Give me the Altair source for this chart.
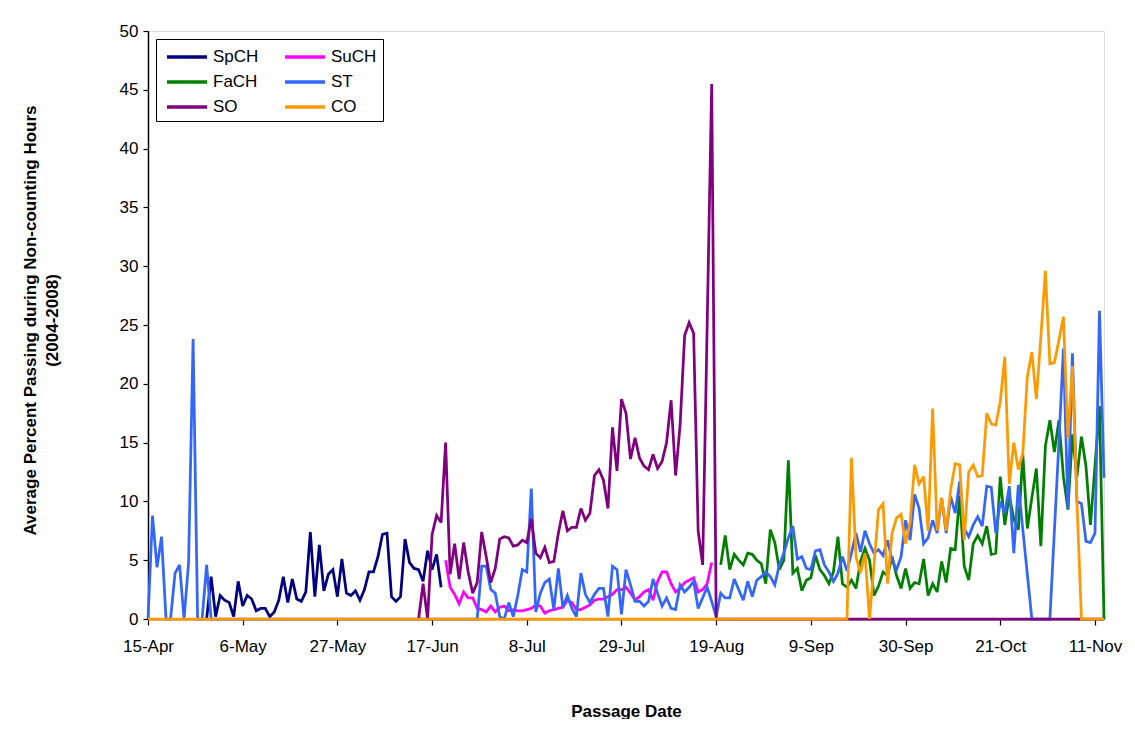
import altair as alt
import pandas as pd

# ---------------- data ----------------
BASE_DATE = "2007-04-15"          # 15-Apr, day 0 of the season
SERIES = ["SpCH", "SuCH", "FaCH", "ST", "SO", "CO"]
COLORS = ["#000080", "#FF00FF", "#008000", "#3366FF", "#800080", "#FF9900"]
TICK_DAYS = [0, 21, 42, 63, 84, 105, 126, 147, 168, 189, 210]
LAST_DAY = 212
Y_TICKS = [0, 5, 10, 15, 20, 25, 30, 35, 40, 45, 50]

SPCH_START = 13
SPCH = [0, 3.6, 0.2, 2.0, 1.6, 1.4, 0.2, 3.2, 1.1, 2.0, 1.7, 0.7, 0.9, 0.9, 0.2,
        0.6, 1.6, 3.6, 1.4, 3.4, 1.7, 1.5, 2.3, 7.4, 1.9, 6.3, 2.4, 3.8, 4.2, 1.9,
        5.1, 2.2, 2.0, 2.4, 1.6, 2.5, 4.0, 4.0, 5.3, 7.2, 7.3, 1.9, 1.5, 1.9, 6.8,
        4.8, 4.3, 4.2, 3.2, 5.8, 4.2, 5.5, 2.7]

SUCH_START = 66
SUCH = [5.0, 2.7, 2.1, 1.3, 2.3, 1.8, 1.8, 0.9, 0.8, 0.6, 1.1, 0.6, 1.0, 1.1, 0.7,
        0.8, 0.7, 0.7, 0.8, 0.9, 1.2, 1.1, 0.5, 0.7, 0.8, 0.9, 1.0, 1.6, 1.4, 0.8,
        0.8, 1.0, 1.2, 1.6, 1.7, 1.7, 1.9, 2.1, 2.5, 2.5, 2.7, 2.2, 1.6, 1.9, 2.3,
        2.5, 1.6, 3.2, 4.0, 4.0, 3.0, 2.3, 2.6, 3.1, 3.3, 3.5, 2.3, 2.5, 3.0, 4.8]

FACH_START = 127
FACH = [4.6, 7.1, 4.2, 5.5, 5.0, 4.6, 5.6, 5.5, 5.0, 4.7, 3.0, 7.6, 6.5, 4.2, 5.0,
        13.5, 3.9, 4.3, 2.4, 3.3, 3.5, 5.4, 4.2, 3.7, 3.0, 4.0, 7.0, 3.0, 2.7, 3.3,
        2.6, 4.9, 6.0, 5.0, 2.0, 2.8, 4.0, 3.7, 5.3, 3.7, 2.6, 4.3, 2.6, 3.1, 3.0,
        5.1, 2.0, 3.0, 2.3, 4.9, 3.1, 6.0, 5.9, 10.5, 4.5, 3.3, 6.4, 7.1, 6.4, 7.9,
        5.5, 5.6, 12.1, 8.0, 10.5, 8.5, 7.6, 14.0, 7.7, 10.3, 12.8, 6.2, 14.7, 16.9,
        14.2, 16.9, 12.1, 9.3, 15.7, 12.1, 15.5, 13.0, 8.0, 13.0, 18.1, 0]

ST_START = 0
ST = ([0, 8.8, 4.4, 7.0, 0, 0, 3.9, 4.6, 0, 4.8, 23.8, 0, 0, 4.6, 0]
      + [0] * 59 +
      [4.5, 4.5, 2.5, 2.2, 0.2, 0, 1.4, 0.2, 2.0, 4.2, 4.0, 11.1, 0.6, 2.2, 3.1,
       3.4, 0.8, 4.3, 1.0, 2.0, 0.9, 0.2, 3.9, 2.1, 1.4, 2.1, 2.6, 2.6, 0.2, 4.5,
       4.2, 0.4, 4.2, 2.9, 1.5, 1.5, 1.1, 1.5, 3.4, 2.2, 1.1, 1.8, 0.9, 0.8, 2.9,
       2.3, 2.7, 3.2, 0.9, 1.8, 2.7, 1.5, 0.2, 2.2, 1.8, 1.8, 3.4, 2.5, 1.6, 3.2,
       1.9, 3.3, 3.6, 4.0, 3.6, 2.9, 4.6, 5.6, 6.9, 7.9, 5.1, 5.3, 4.3, 4.2, 5.8,
       5.9, 4.6, 4.0, 3.2, 3.9, 5.3, 4.1, 5.6, 7.3, 5.7, 7.5, 6.4, 5.6, 5.9, 5.4,
       6.7, 5.0, 4.2, 5.3, 8.4, 6.7, 10.6, 9.4, 6.4, 6.9, 8.4, 7.3, 10.3, 7.3, 10.4,
       9.0, 11.7, 7.7, 7.0, 8.0, 8.7, 7.9, 11.3, 11.2, 7.3, 10.0, 9.0, 11.3, 5.6,
       11.4, 7.6, 3.8, 0, 0, 0, 0, 0, 7.5, 15.0, 23.0, 9.4, 22.6, 10.0, 9.8, 6.6,
       6.5, 7.3, 26.2, 12.0])

SO_START = 60
SO = ([0, 3.0, 0, 7.2, 8.8, 8.2, 15.0, 3.8, 6.4, 3.4, 6.5, 4.0, 2.2, 3.1, 7.4,
       5.3, 3.1, 4.3, 6.8, 7.0, 6.9, 6.2, 6.3, 6.7, 6.5, 8.5, 5.6, 5.2, 6.1, 4.8,
       4.9, 7.3, 9.2, 7.5, 7.8, 7.8, 9.4, 8.4, 9.0, 12.2, 12.7, 11.8, 9.4, 16.3,
       12.6, 18.7, 17.5, 13.6, 15.4, 13.7, 13.0, 12.7, 14.0, 12.8, 13.4, 15.0, 18.6,
       12.2, 16.5, 24.1, 25.2, 24.3, 7.5, 4.6, 25.0, 45.5, 0]
      + [0] * 86)

CO_START = 0
CO = ([0] * 156 +
      [13.7, 5.3, 3.9, 5.6, 0, 4.6, 9.3, 9.8, 3.0, 7.3, 8.6, 8.9, 6.4, 8.2, 13.1,
       11.5, 12.1, 7.5, 17.9, 7.5, 10.3, 7.5, 11.0, 13.2, 13.1, 6.7, 12.5, 13.1,
       12.1, 12.2, 17.5, 16.6, 16.5, 18.5, 22.3, 11.5, 15.0, 12.7, 14.1, 20.6,
       22.7, 18.7, 24.0, 29.6, 21.7, 21.8, 23.7, 25.7, 15.4, 21.5, 10.0,
       0, 0, 0, 0, 0, 0])

# ---------------- build long table ----------------
base = pd.Timestamp(BASE_DATE, tz="UTC")


def ms(day):
    return int((base + pd.Timedelta(days=day)).value // 1_000_000)


rows = []
for name, start, vals in [("SpCH", SPCH_START, SPCH), ("SuCH", SUCH_START, SUCH),
                          ("FaCH", FACH_START, FACH), ("ST", ST_START, ST),
                          ("SO", SO_START, SO), ("CO", CO_START, CO)]:
    for i, v in enumerate(vals):
        rows.append({"series": name, "date": ms(start + i), "value": v})
df = pd.DataFrame(rows)

FONT = "Liberation Sans"

chart = alt.Chart(df).mark_line(strokeWidth=2.75, strokeJoin="miter", strokeMiterLimit=3).encode(
    x=alt.X("date:T",
            scale=alt.Scale(type="utc", domain=[ms(0), ms(LAST_DAY)], nice=False),
            axis=alt.Axis(values=[ms(d) for d in TICK_DAYS],
                          labelExpr="utcFormat(datum.value, '%-d-%b')",
                          title="Passage Date",
                          labelFontSize=17, labelFont=FONT, labelColor="black",
                          labelPadding=13, tickSize=6, tickColor="black",
                          domainColor="black", domainWidth=1.5, tickWidth=1.2,
                          grid=False, labelFlush=False, labelOverlap=False,
                          titleFont=FONT, titleFontSize=17, titleFontWeight="bold",
                          titleColor="black", titleY=84, titleBaseline="top")),
    y=alt.Y("value:Q",
            scale=alt.Scale(domain=[0, 50], nice=False),
            axis=alt.Axis(values=Y_TICKS, title=["Average Percent Passing during Non-counting Hours",
                                                 "(2004-2008)"],
                          labelFontSize=17, labelFont=FONT, labelColor="black",
                          labelPadding=5, tickSize=5, tickColor="black",
                          domainColor="black", domainWidth=1.5, tickWidth=1.2,
                          grid=False,
                          titleFont=FONT, titleFontSize=17, titleFontWeight="bold",
                          titleColor="black", titleAngle=270, titleX=-126, titleY=289,
                          titleAlign="center", titleBaseline="top", titleLineHeight=22)),
    color=alt.Color("series:N",
                    scale=alt.Scale(domain=SERIES, range=COLORS),
                    legend=alt.Legend(title=None, orient="none", legendX=8, legendY=8,
                                      direction="horizontal",
                                      columns=2, symbolType="M-0.7,0H3.3", symbolSize=400,
                                      symbolStrokeWidth=3.5, labelFontSize=17,
                                      labelFont=FONT, labelColor="black", labelOffset=27,
                                      padding=6, rowPadding=5, columnPadding=19,
                                      strokeColor="black", fillColor="white")),
    detail="series:N",
).properties(
    width=956,
    height=588,
    autosize=alt.AutoSizeParams(type="none"),
    padding={"left": 140, "top": 23, "right": 20, "bottom": 100},
).configure_view(
    stroke="#666666", strokeWidth=1.5
).configure(background="white")

chart.save("out.html", embed_options={"renderer": "svg", "actions": False})
